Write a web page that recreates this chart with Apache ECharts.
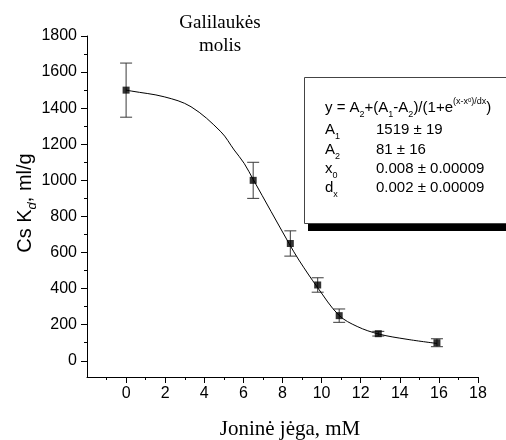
<!DOCTYPE html>
<html>
<head>
<meta charset="utf-8">
<script src="https://cdn.jsdelivr.net/npm/echarts@6/dist/echarts.min.js"></script>
<style>
  html, body { margin: 0; padding: 0; background: #fff; }
  #chart { width: 506px; height: 440px; }
</style>
</head>
<body>
<div id="chart"></div>
<script>
// Measured sorption coefficients vs ionic strength
const ionicStrength = [0, 6.5, 8.4, 9.8, 10.9, 12.9, 15.9];
const kdValues = [1500, 1000, 650, 420, 250, 150, 100];
const kdErrors = [150, 100, 70, 40, 37, 13, 22];

// Points along the fitted Boltzmann curve
const fitX = [0, 0.26, 1.95, 3.32, 4.85, 5.53, 6.04, 6.5, 8.33, 8.84, 9.8, 10.88, 11.82, 12.93, 14.37, 15.9];
const fitY = [1500, 1495, 1463, 1408, 1269, 1168, 1094, 1005, 651, 558, 405, 253, 190, 148, 119, 96];

// Axis tick positions
const xLabels = [0, 2, 4, 6, 8, 10, 12, 14, 16, 18];
const xMinor = [-1, 1, 3, 5, 7, 9, 11, 13, 15, 17];
const yLabels = [0, 200, 400, 600, 800, 1000, 1200, 1400, 1600, 1800];
const yMinor = [100, 300, 500, 700, 900, 1100, 1300, 1500, 1700];

const SANS = '"Liberation Sans", Arial, sans-serif';
const SERIF = '"Liberation Serif", "Times New Roman", serif';

const pts = ionicStrength.map((x, i) => [x, kdValues[i]]);
const bars = ionicStrength.map((x, i) => [x, kdValues[i] - kdErrors[i], kdValues[i] + kdErrors[i]]);
const fit = fitX.map((x, i) => [x, fitY[i]]);

const X_MIN = -2, X_MAX = 18, Y_MIN = -90, Y_MAX = 1800;

function xAxisBase(extra) {
  return Object.assign({
    type: 'value', min: X_MIN, max: X_MAX, position: 'bottom',
    splitLine: { show: false },
    axisLine: { show: false, onZero: false },
    axisLabel: { show: false },
    axisTick: { show: false }
  }, extra);
}
function yAxisBase(extra) {
  return Object.assign({
    type: 'value', min: Y_MIN, max: Y_MAX, position: 'left',
    splitLine: { show: false },
    axisLine: { show: false, onZero: false },
    axisLabel: { show: false },
    axisTick: { show: false }
  }, extra);
}

const plain = v => String(v);

const chart = echarts.init(document.getElementById('chart'), null, { renderer: 'canvas' });

const option = {
  animation: false,
  backgroundColor: '#fff',
  grid: { left: 87, right: 28, top: 36, bottom: 63 },
  xAxis: [
    xAxisBase({
      axisLine: { show: true, onZero: false, lineStyle: { color: '#000', width: 1 } },
      axisTick: { show: true, length: 6, inside: false, customValues: xLabels, lineStyle: { color: '#000' } },
      axisLabel: { show: true, customValues: xLabels, formatter: plain, margin: 9, color: '#000', fontFamily: SANS, fontSize: 16 }
    }),
    xAxisBase({
      axisTick: { show: true, length: 3, customValues: xMinor, lineStyle: { color: '#000' } }
    })
  ],
  yAxis: [
    yAxisBase({
      axisLine: { show: true, onZero: false, lineStyle: { color: '#000', width: 1 } },
      axisTick: { show: true, length: 6, customValues: yLabels, lineStyle: { color: '#000' } },
      axisLabel: { show: true, customValues: yLabels, formatter: plain, margin: 10, color: '#000', fontFamily: SANS, fontSize: 16 }
    }),
    yAxisBase({
      axisTick: { show: true, length: 3, customValues: yMinor, lineStyle: { color: '#000' } }
    })
  ],
  series: [
    {
      type: 'custom',
      xAxisIndex: 0, yAxisIndex: 0,
      data: bars,
      renderItem: function (params, api) {
        const x = api.value(0);
        const lo = api.coord([x, api.value(1)]);
        const hi = api.coord([x, api.value(2)]);
        const w = 6;
        const st = { stroke: '#3a3a3a', lineWidth: 1 };
        return {
          type: 'group',
          children: [
            { type: 'line', shape: { x1: lo[0], y1: lo[1], x2: hi[0], y2: hi[1] }, style: st },
            { type: 'line', shape: { x1: hi[0] - w, y1: hi[1], x2: hi[0] + w, y2: hi[1] }, style: st },
            { type: 'line', shape: { x1: lo[0] - w, y1: lo[1], x2: lo[0] + w, y2: lo[1] }, style: st }
          ]
        };
      },
      z: 2
    },
    {
      type: 'line',
      xAxisIndex: 0, yAxisIndex: 0,
      data: fit,
      smooth: 0.35,
      showSymbol: false,
      lineStyle: { color: '#000', width: 1 },
      z: 3
    },
    {
      type: 'scatter',
      xAxisIndex: 0, yAxisIndex: 0,
      data: pts,
      symbol: 'rect',
      symbolSize: 7,
      itemStyle: { color: '#000' },
      z: 4
    }
  ],
  graphic: [
    {
      type: 'text', x: 220, y: 35,
      style: {
        text: 'Galilaukės\nmolis', fontFamily: SERIF, fontSize: 19, lineHeight: 23,
        fill: '#000', align: 'center', verticalAlign: 'middle'
      }
    },
    {
      type: 'text', x: 290, y: 429,
      style: {
        text: 'Joninė jėga, mM', fontFamily: SERIF, fontSize: 21,
        fill: '#000', align: 'center', verticalAlign: 'middle'
      }
    },
    {
      type: 'text', x: 25, y: 203, rotation: Math.PI / 2,
      style: {
        text: '{t|Cs K}{s|d}{t|, ml/g}',
        fill: '#000', align: 'center', verticalAlign: 'middle',
        rich: {
          t: { fontFamily: SANS, fontSize: 20, lineHeight: 28, verticalAlign: 'middle' },
          s: { fontFamily: SANS, fontSize: 13, fontStyle: 'italic', lineHeight: 13, verticalAlign: 'bottom' }
        }
      }
    },
    // Fit-result box with drop shadow
    {
      type: 'rect', shape: { x: 308, y: 224, width: 220, height: 7 },
      style: { fill: '#000' }, z: 10
    },
    {
      type: 'rect', shape: { x: 304.5, y: 77.5, width: 220, height: 146 },
      style: { fill: '#fff', stroke: '#444', lineWidth: 1 }, z: 11
    },
    {
      type: 'text', x: 325, y: 108, z: 12,
      style: {
        text: '{t|y = A}{s|2}{t|+(A}{s|1}{t|-A}{s|2}{t|)/(1+e}{p|(x-x}{ps|0}{p|)/dx}{t|)}',
        fill: '#000', align: 'left', verticalAlign: 'middle',
        rich: {
          t: { fontFamily: SANS, fontSize: 15, lineHeight: 22, verticalAlign: 'middle' },
          s: { fontFamily: SANS, fontSize: 9, lineHeight: 10, verticalAlign: 'bottom' },
          p: { fontFamily: SANS, fontSize: 9, lineHeight: 10, verticalAlign: 'top' },
          ps: { fontFamily: SANS, fontSize: 6, lineHeight: 14, verticalAlign: 'top' }
        }
      }
    },
    ...[
      ['{t|A}{s|1}', '1519 ± 19', 130],
      ['{t|A}{s|2}', '81 ± 16', 150],
      ['{t|x}{s|0}', '0.008 ± 0.00009', 169],
      ['{t|d}{s|x}', '0.002 ± 0.00009', 188]
    ].flatMap(([name, val, y]) => [
      {
        type: 'text', x: 325, y: y, z: 12,
        style: {
          text: name, fill: '#000', align: 'left', verticalAlign: 'middle',
          rich: {
            t: { fontFamily: SANS, fontSize: 15, lineHeight: 22, verticalAlign: 'middle' },
            s: { fontFamily: SANS, fontSize: 9, lineHeight: 10, verticalAlign: 'bottom' }
          }
        }
      },
      {
        type: 'text', x: 376, y: y, z: 12,
        style: { text: val, fill: '#000', fontFamily: SANS, fontSize: 15, align: 'left', verticalAlign: 'middle' }
      }
    ])
  ]
};

chart.setOption(option);
</script>
</body>
</html>
